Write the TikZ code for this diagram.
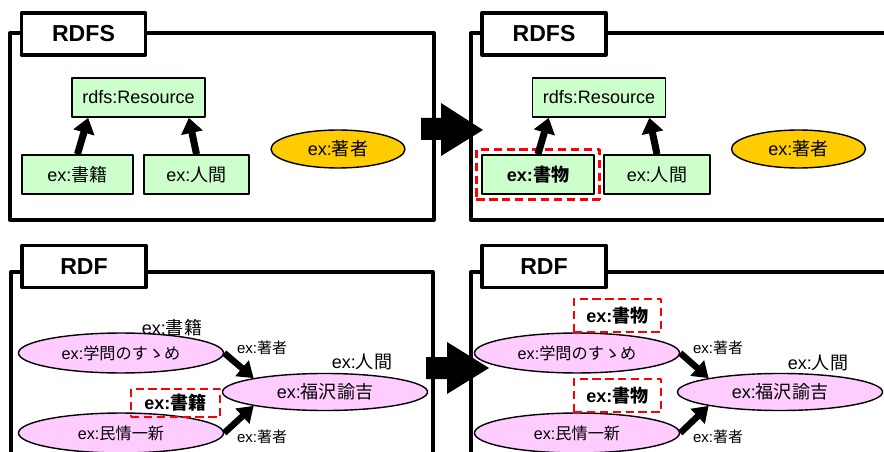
\documentclass[tikz,border=0pt]{standalone}
\usepackage{fontspec}
\setmainfont{Liberation Sans}
\newfontfamily\jpf{Noto Sans CJK JP}
\newcommand{\jtxt}[1]{{\jpf #1}}
\usetikzlibrary{arrows.meta,shapes.geometric,fit}
\definecolor{clsgreen}{HTML}{CCFFCC}
\definecolor{propyellow}{HTML}{FFCC00}
\definecolor{respink}{HTML}{FFCCFF}
\begin{document}
\begin{tikzpicture}[x=0.03cm,y=-0.03cm,font=\fontsize{15.4}{18}\selectfont,line join=round,
	frame/.style={line width=2.8pt},
	tab/.style={draw,line width=2.8pt,fill=white,minimum width=105.8pt,minimum height=35.9pt,font=\fontsize{19.7}{23}\selectfont\bfseries},
	cls/.style={draw,line width=1.4pt,fill=clsgreen,minimum height=33.3pt,inner sep=0pt},
	prop/.style={draw,ellipse,line width=1.2pt,fill=propyellow,minimum width=114.4pt,minimum height=32.4pt,inner sep=0pt},
	res/.style={draw,ellipse,line width=1.2pt,fill=respink,minimum width=175pt,minimum height=34.1pt,inner sep=0pt},
	book/.style={res,font=\fontsize{13.8}{16}\selectfont},
	hilite/.style={draw=red,line width=2.2pt,dash pattern=on 7pt off 4pt,font=\fontsize{15.4}{18}\selectfont\bfseries},
	sub/.style={-{Triangle[length=13pt,width=18pt]},line width=6pt},
	rel/.style={-{Triangle[length=13pt,width=17pt]},line width=5.5pt},
	plbl/.style={font=\fontsize{12.8}{15}\selectfont}]
	\clip (0,0) rectangle (884,452);
	% RDFS, before
	\draw[frame] (10,33) rectangle (434,220);
	\node (t1) at (83.5,34) [tab] {RDFS};
	\node (rs1) at (138.5,97.5) [cls,minimum width=113.5pt] {rdfs:Resource};
	\node (bk1) at (77.5,174.5) [cls,minimum width=94.7pt] {ex:\jtxt{書籍}};
	\node (hm1) at (196.5,174.5) [cls,minimum width=89.6pt] {ex:\jtxt{人間}};
	\node (au1) at (338,149) [prop] {ex:\jtxt{著者}};
	\draw[sub] (bk1.north) -- (rs1.202.7);
	\draw[sub] (hm1.north) -- (rs1.-22.7);
	% RDFS, after
	\draw[frame] (471,33) rectangle (900,220);
	\node (t2) at (544,34) [tab] {RDFS};
	\node (rs2) at (599,97.5) [cls,minimum width=113.5pt] {rdfs:Resource};
	\node (bk2) at (538,174.5) [cls,minimum width=95.6pt,font=\fontsize{15.4}{18}\selectfont\bfseries] {ex:\jtxt{書物}};
	\node (hm2) at (657,174.5) [cls,minimum width=90.5pt] {ex:\jtxt{人間}};
	\node (au2) at (798.5,149) [prop] {ex:\jtxt{著者}};
	\node (bx1) [hilite,fit=(bk2),inner sep=4pt] {};
	\draw[sub] (bk2.north) -- (rs2.202.7);
	\draw[sub] (hm2.north) -- (rs2.-22.7);
	% RDF, before
	\draw[frame] (11,272) rectangle (433,480);
	\node (t3) at (84,266.5) [tab] {RDF};
	\node (gk1) at (121,353) [book] {ex:\jtxt{学問のすゝめ}};
	\node (mj1) at (121,433) [book] {ex:\jtxt{民情一新}};
	\node (fk1) at (325,392) [res,minimum height=31.6pt] {ex:\jtxt{福沢諭吉}};
	\node (c1) at (172,328) {ex:\jtxt{書籍}};
	\node (bx2) at (175.5,403) [hilite,minimum width=76pt,minimum height=23.9pt,inner sep=0pt] {ex:\jtxt{書籍}};
	\node (c2) at (362,362) {ex:\jtxt{人間}};
	\draw[rel] (gk1.east) -- (fk1.169);
	\draw[rel] (mj1.east) -- (fk1.191);
	\node (p1) at (262,348) [plbl] {ex:\jtxt{著者}};
	\node (p2) at (262,437) [plbl] {ex:\jtxt{著者}};
	% RDF, after
	\draw[frame] (471,272) rectangle (900,480);
	\node (t4) at (544,266.5) [tab] {RDF};
	\node (gk2) at (577,353) [book] {ex:\jtxt{学問のすゝめ}};
	\node (mj2) at (577,433) [book] {ex:\jtxt{民情一新}};
	\node (fk2) at (780,392) [res,minimum height=31.6pt] {ex:\jtxt{福沢諭吉}};
	\node (bx3) at (617.5,315.5) [hilite,minimum width=74.3pt,minimum height=28.2pt,inner sep=0pt] {ex:\jtxt{書物}};
	\node (bx4) at (617.5,395.5) [hilite,minimum width=74.3pt,minimum height=28.2pt,inner sep=0pt] {ex:\jtxt{書物}};
	\node (c3) at (818,363) {ex:\jtxt{人間}};
	\draw[rel] (gk2.east) -- (fk2.169);
	\draw[rel] (mj2.east) -- (fk2.191);
	\node (p3) at (718,348) [plbl] {ex:\jtxt{著者}};
	\node (p4) at (718,437) [plbl] {ex:\jtxt{著者}};
	% step arrows
	\fill (421,118) -- (441,118) -- (441,103) -- (483,130) -- (441,156) -- (441,140) -- (421,140) -- cycle;
	\fill (426,357) -- (447,357) -- (447,342) -- (489,368) -- (447,394) -- (447,379) -- (426,379) -- cycle;
\end{tikzpicture}
\end{document}
